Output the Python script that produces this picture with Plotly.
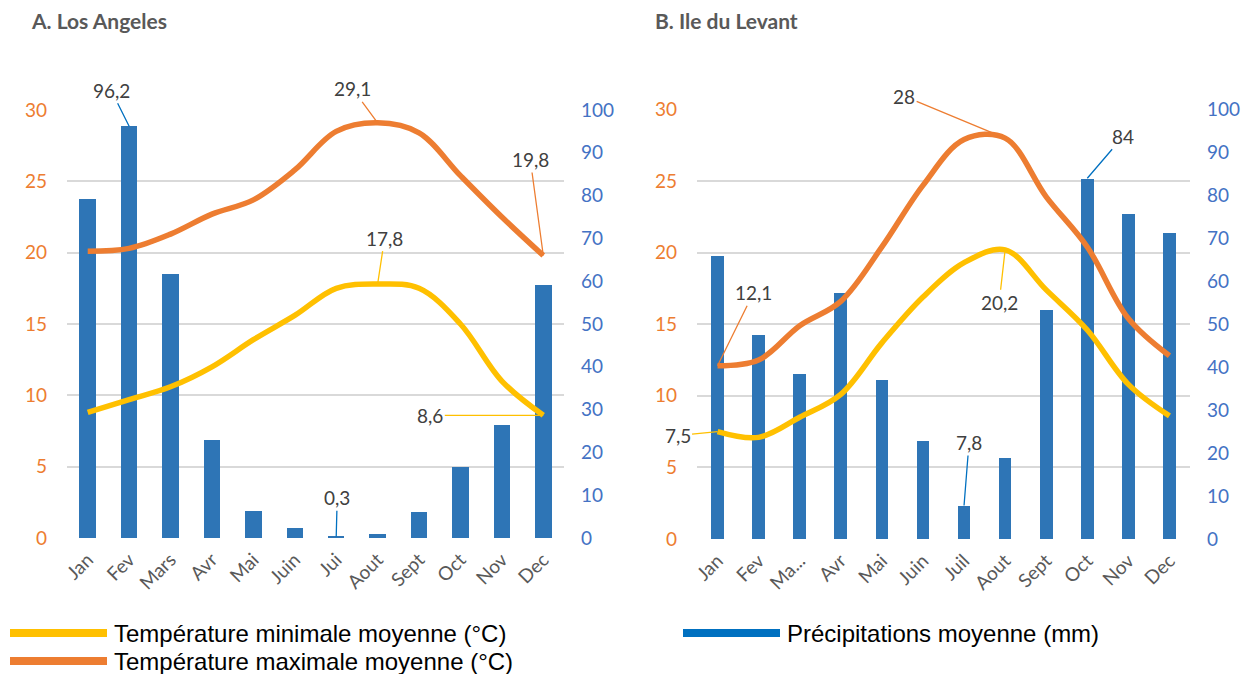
import plotly.graph_objects as go

# ---------------- data ----------------
months_la = ["Jan", "Fev", "Mars", "Avr", "Mai", "Juin", "Jui", "Aout", "Sept", "Oct", "Nov", "Dec"]
months_lev = ["Jan", "Fev", "Ma...", "Avr", "Mai", "Juin", "Juil", "Aout", "Sept", "Oct", "Nov", "Dec"]

la_precip = [79.2, 96.2, 61.7, 23.0, 6.3, 2.3, 0.3, 1.0, 6.0, 16.7, 26.3, 59.0]
la_tmax = [20.1, 20.3, 21.3, 22.7, 23.7, 25.8, 28.5, 29.1, 28.4, 25.4, 22.5, 19.8]
la_tmin = [8.8, 9.7, 10.6, 12.0, 13.9, 15.6, 17.5, 17.8, 17.5, 15.0, 11.0, 8.6]

lev_precip = [66.0, 47.5, 38.6, 57.4, 37.1, 22.9, 7.8, 19.0, 53.5, 84.0, 75.8, 71.3]
lev_tmax = [12.1, 12.5, 14.9, 16.6, 20.4, 24.7, 27.9, 28.0, 23.9, 20.4, 15.4, 12.8]
lev_tmin = [7.5, 7.1, 8.5, 10.1, 13.7, 16.9, 19.3, 20.2, 17.4, 14.6, 10.8, 8.6]

titles = ["A. Los Angeles", "B. Ile du Levant"]
legend_labels = ["Température minimale moyenne (°C)",
                 "Température maximale moyenne (°C)",
                 "Précipitations moyenne (mm)"]

# ---------------- styles ----------------
W, H = 1249, 674
BAR = "#2E75B6"
BLUE_TXT = "#4472C4"
LEADER_BLUE = "#0070C0"
ORANGE = "#ED7D31"
YELLOW = "#FFC000"
GRID = "#D9D9D9"
GREY = "#595959"
LABEL = "#404040"
FONT = "Lato"


def px(x):
    return x / W


def py(y):
    return 1 - y / H


fig = go.Figure()

# Los Angeles
fig.add_trace(go.Bar(x=months_la, y=la_precip, xaxis="x", yaxis="y",
                     marker=dict(color=BAR, line=dict(width=0)), width=0.4))
fig.add_trace(go.Scatter(x=months_la, y=la_tmin, xaxis="x", yaxis="y2", mode="lines",
                         line=dict(color=YELLOW, width=5.5, shape="spline", smoothing=1)))
fig.add_trace(go.Scatter(x=months_la, y=la_tmax, xaxis="x", yaxis="y2", mode="lines",
                         line=dict(color=ORANGE, width=5.5, shape="spline", smoothing=1)))

# Ile du Levant
fig.add_trace(go.Bar(x=months_lev, y=lev_precip, xaxis="x2", yaxis="y3",
                     marker=dict(color=BAR, line=dict(width=0)), width=0.31))
fig.add_trace(go.Scatter(x=months_lev, y=lev_tmin, xaxis="x2", yaxis="y4", mode="lines",
                         line=dict(color=YELLOW, width=5.5, shape="spline", smoothing=1)))
fig.add_trace(go.Scatter(x=months_lev, y=lev_tmax, xaxis="x2", yaxis="y4", mode="lines",
                         line=dict(color=ORANGE, width=5.5, shape="spline", smoothing=1)))

xcommon = dict(type="category", tickangle=-45, showgrid=False, zeroline=False, showline=False,
               ticks="", automargin=False, range=[-0.5, 11.5], autorange=False,
               tickfont=dict(family=FONT, size=19, color=GREY), ticklabelstandoff=6)
precip_common = dict(side="right", range=[0, 100], dtick=10, showgrid=False, zeroline=False,
                     showline=False, ticks="", automargin=False,
                     tickfont=dict(family=FONT, size=19, color=BLUE_TXT), ticklabelstandoff=16)
temp_common = dict(side="left", range=[0, 30], dtick=5, showgrid=True, gridcolor=GRID, gridwidth=1.5,
                   zeroline=False, showline=False, ticks="", automargin=False,
                   tickfont=dict(family=FONT, size=19, color=ORANGE), ticklabelstandoff=19)

fig.update_layout(
    width=W, height=H,
    margin=dict(l=0, r=0, t=0, b=0, autoexpand=False),
    paper_bgcolor="white", plot_bgcolor="white",
    showlegend=False, bargap=0, hovermode=False,
    xaxis=dict(domain=[px(67), px(564)], anchor="y", **xcommon),
    yaxis=dict(domain=[py(538), py(110)], anchor="x", **precip_common),
    yaxis2=dict(overlaying="y", anchor="x", **temp_common),
    xaxis2=dict(domain=[px(697), px(1190)], anchor="y3", **xcommon),
    yaxis3=dict(domain=[py(539), py(109.5)], anchor="x2", **precip_common),
    yaxis4=dict(overlaying="y3", anchor="x2", **temp_common),
)

# ---------------- data labels with leader lines ----------------
def label(text, x, y, xref, yref, ax, ay, color):
    fig.add_annotation(text=text, x=x, y=y, xref=xref, yref=yref, ax=ax, ay=ay,
                       showarrow=True, arrowhead=0, arrowwidth=1.3, arrowcolor=color,
                       standoff=0, startstandoff=0,
                       font=dict(family=FONT, size=19, color=LABEL))


label("96,2", "Fev", 96.2, "x", "y", -18, -36, LEADER_BLUE)
label("29,1", "Aout", 29.1, "x", "y2", -25, -34, ORANGE)
label("19,8", "Dec", 19.8, "x", "y2", -13, -96, ORANGE)
label("17,8", "Aout", 17.8, "x", "y2", 7, -46, YELLOW)
label("8,6", "Dec", 8.6, "x", "y2", -113, 0, YELLOW)
label("0,3", "Jui", 0.3, "x", "y", 1, -39, LEADER_BLUE)

label("28", "Aout", 28.0, "x2", "y4", -101, -42, ORANGE)
label("84", "Oct", 84.0, "x2", "y3", 36, -42, LEADER_BLUE)
label("12,1", "Jan", 12.1, "x2", "y4", 36, -73, ORANGE)
label("20,2", "Aout", 20.2, "x2", "y4", -6, 53, YELLOW)
label("7,5", "Jan", 7.5, "x2", "y4", -40, 4, YELLOW)
label("7,8", "Juil", 7.8, "x2", "y3", 5, -63, LEADER_BLUE)

# ---------------- titles ----------------
for t, x0 in zip(titles, [29, 653]):
    fig.add_annotation(text="<b>%s</b>" % t, xref="paper", yref="paper", x=px(x0), y=py(20),
                       xanchor="left", yanchor="middle", showarrow=False,
                       font=dict(family=FONT, size=21, color=GREY))

# ---------------- legend ----------------
legend_items = [(legend_labels[0], YELLOW, 10, 633),
                (legend_labels[1], ORANGE, 10, 661),
                (legend_labels[2], LEADER_BLUE, 683, 633)]
for text, col, x0, y0 in legend_items:
    fig.add_shape(type="line", xref="paper", yref="paper", x0=px(x0), x1=px(x0 + 97),
                  y0=py(y0), y1=py(y0), line=dict(color=col, width=8))
    fig.add_annotation(text=text, xref="paper", yref="paper", x=px(x0 + 102), y=py(y0),
                       xanchor="left", yanchor="middle", showarrow=False,
                       font=dict(family="Liberation Sans", size=24, color="black"))

# remove the default page margin so the figure fills the window exactly
fig.write_html("out.html", config={"displayModeBar": False},
               post_script="document.body.style.margin='0';document.body.style.overflow='hidden';")
